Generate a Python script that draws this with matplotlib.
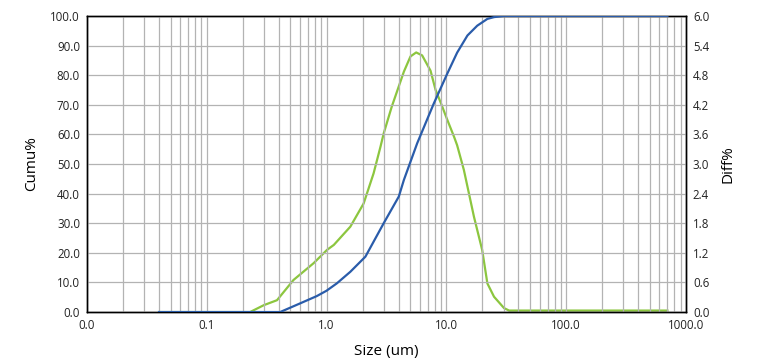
import matplotlib.pyplot as plt
from matplotlib.ticker import FixedLocator, LogLocator, NullFormatter

plt.rcParams['font.family'] = ['Open Sans', 'DejaVu Sans']

# cumulative curve (left axis)
size_cumu = [0.04, 0.41, 0.60, 0.83, 1.0, 1.22, 1.58, 2.11, 3.0, 4.01, 4.42,
             5.71, 7.87, 10.2, 12.3, 15.0, 18.1, 22.0, 25.0, 30.0, 700]
cumu = [0, 0, 2.9, 5.4, 7.2, 9.7, 13.6, 18.7, 30.0, 39.0, 44.6,
        57.0, 70.5, 80.6, 87.6, 93.4, 96.7, 99.0, 99.6, 100, 100]

# differential curve (right axis)
size_diff = [0.04, 0.23, 0.30, 0.386, 0.53, 0.78, 1.01, 1.15, 1.58, 2.04, 2.47,
             2.82, 3.0, 3.5, 4.42, 5.02, 5.60, 6.28, 7.38, 8.13, 8.95, 10.2,
             11.6, 12.3, 14.0, 17.0, 19.9, 22.0, 25.0, 30.3, 33.4, 700]
diff = [0, 0, 0.14, 0.24, 0.65, 0.99, 1.26, 1.36, 1.73, 2.20, 2.81,
        3.35, 3.62, 4.16, 4.87, 5.18, 5.26, 5.20, 4.89, 4.50, 4.25, 3.89,
        3.55, 3.38, 2.88, 1.93, 1.26, 0.58, 0.31, 0.08, 0.03, 0.03]

x_ticks = [0.01, 0.1, 1, 10, 100, 1000]
x_labels = ['0.0', '0.1', '1.0', '10.0', '100.0', '1000.0']
left_ticks = [i * 10 for i in range(11)]
right_ticks = [i * 0.6 for i in range(11)]

fig = plt.figure(figsize=(7.76, 3.62), dpi=100)
ax = fig.add_axes([0.112, 0.138, 0.772, 0.818])
ax2 = ax.twinx()

ax.set_xscale('log')
ax.set_xlim(0.01, 1000)
ax.set_ylim(0, 100)
ax2.set_ylim(0, 6)

ax.xaxis.set_major_locator(FixedLocator(x_ticks))
ax.set_xticklabels(x_labels)
ax.xaxis.set_minor_locator(LogLocator(base=10, subs=range(2, 10), numticks=20))
ax.xaxis.set_minor_formatter(NullFormatter())
ax.set_yticks(left_ticks)
ax.set_yticklabels(['%.1f' % v for v in left_ticks])
ax2.set_yticks(right_ticks)
ax2.set_yticklabels(['%.1f' % v for v in right_ticks])

ax.grid(True, which='both', color='#b3b3b3', linewidth=0.9)
ax.set_axisbelow(True)
for a in (ax, ax2):
    a.tick_params(which='both', length=0, labelsize=8.3, pad=5, colors='#222222')
    for s in a.spines.values():
        s.set_linewidth(1.0)

ax2.plot(size_diff, diff, color='#8cc63f', linewidth=1.6)
ax.plot(size_cumu, cumu, color='#2a5caa', linewidth=1.6, zorder=5)
ax.set_zorder(ax2.get_zorder() + 1)
ax.patch.set_visible(False)

ax.set_xlabel('Size (um)', fontsize=11, labelpad=9)
ax.set_ylabel('Cumu%', fontsize=11, labelpad=8)
ax2.set_ylabel('Diff%', fontsize=11, labelpad=8)

fig.savefig('out.png', dpi=100)
